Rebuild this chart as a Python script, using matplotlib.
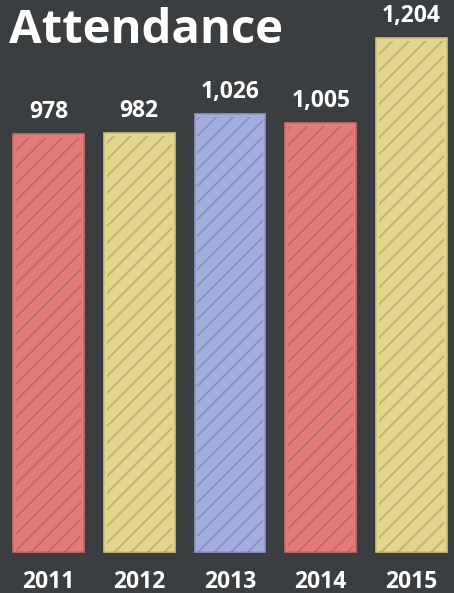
import matplotlib.pyplot as plt

years = ['2011', '2012', '2013', '2014', '2015']
attendance = [978, 982, 1026, 1005, 1204]
colors = ['#e27c79', '#e4d58a', '#a4addf', '#e27c79', '#e4d58a']
edges = ['#c96a68', '#cdbf78', '#8f98c8', '#c96a68', '#cdbf78']

bg = '#3b3e41'
plt.rcParams['hatch.linewidth'] = 1.4

fig = plt.figure(figsize=(4.54, 5.93), dpi=100, facecolor=bg)
ax = fig.add_axes([0, 0, 1, 1])
ax.set_facecolor(bg)

x = list(range(len(years)))
# bars, then a chalky diagonal streak overlay
ax.bar(x, attendance, width=0.78, color=colors, edgecolor=edges, linewidth=1.2, zorder=2)
for xi, v in zip(x, attendance):
    ax.bar(xi, v - 8, width=0.72, color='none', edgecolor=(0.2, 0.22, 0.24, 0.22),
           hatch='//', linewidth=0, zorder=3)

for xi, v in zip(x, attendance):
    ax.text(xi, v + 38, f'{v:,}', ha='center', va='baseline', color='white',
            fontsize=16.5, fontweight='bold', family='Open Sans')
    ax.text(xi, -84, years[xi], ha='center', va='baseline', color='white',
            fontsize=16.5, fontweight='bold', family='Open Sans')

fig.text(0.02, 0.9275, 'Attendance', ha='left', va='baseline', color='white',
         fontsize=34, fontweight='bold', family='Open Sans')

ax.set_xlim(-0.534, 4.468)
ax.set_ylim(-96, 1293)
ax.axis('off')

fig.savefig('out.png', dpi=100, facecolor=bg)
